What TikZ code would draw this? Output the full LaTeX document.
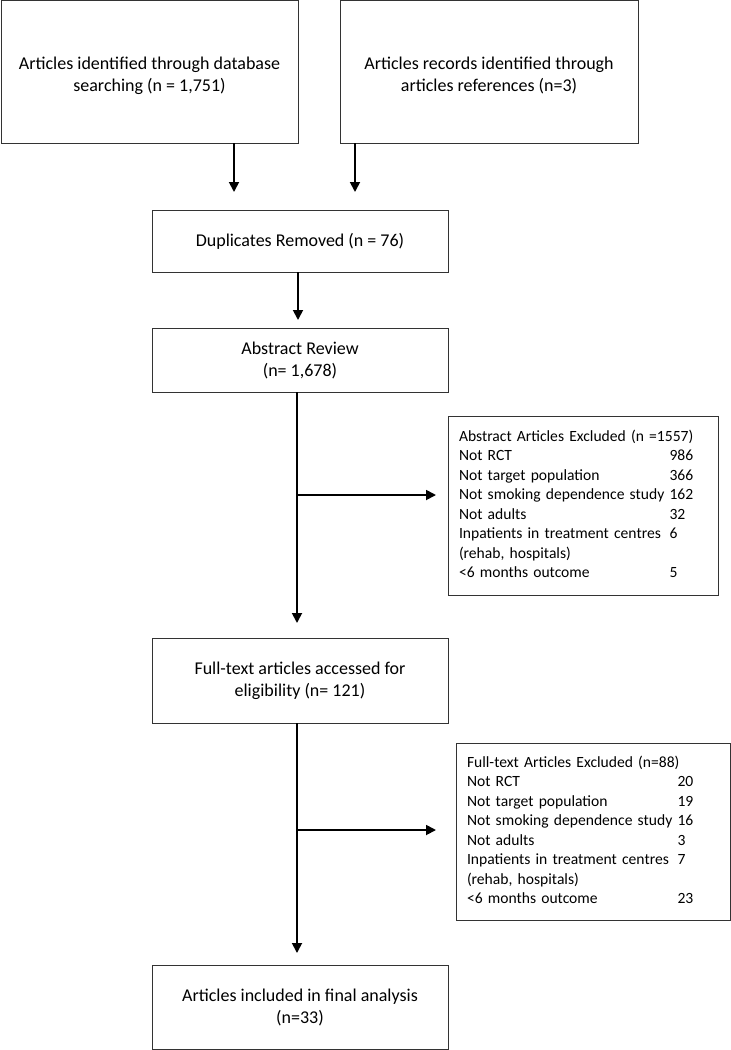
\documentclass[tikz,border=0pt]{standalone}
\usepackage{fontspec}
\setmainfont{Carlito}
\usetikzlibrary{arrows.meta}
\begin{document}
\begin{tikzpicture}[x=1pt,y=-1pt,
  box/.style={draw=black!80,line width=0.9pt,rectangle,inner sep=0pt,align=center,font=\fontsize{18}{22}\selectfont},
  txt/.style={inner sep=0pt,align=center,font=\fontsize{18}{22}\selectfont},
  exbox/.style={draw=black!80,line width=0.9pt,rectangle,inner xsep=11pt,inner ysep=0pt,align=left,font=\fontsize{15.6}{19.5}\selectfont},
  arr/.style={line width=1.8pt,-{Triangle[length=10pt,width=10pt]}}]
\useasboundingbox (0,0) rectangle (731,1050);
\node[box,minimum width=297pt,minimum height=143pt] (a) at (149.5,71.5) {};
\node[txt] (atext) at (149.5,75.5) {Articles identified through database\\searching (n = 1,751)};
\node[box,minimum width=298pt,minimum height=143pt] (b) at (489,71.5) {};
\node[txt] (btext) at (489,75.5) {Articles records identified through\\articles references (n=3)};
\node[box,minimum width=296pt,minimum height=62pt] (dup) at (300,241) {Duplicates Removed (n = 76)};
\node[box,minimum width=296pt,minimum height=64pt] (abs) at (300,360) {Abstract Review\\(n= 1,678)};
\node[box,minimum width=296pt,minimum height=85pt] (full) at (300,680.5) {Full-text articles accessed for\\eligibility (n= 121)};
\node[box,minimum width=296pt,minimum height=84pt] (fin) at (300,1007) {Articles included in final analysis\\(n=33)};
\node[exbox,minimum width=270pt,minimum height=179pt,text width=248pt] (ex1) at (583,505.5) {%
\begin{tabular}{@{}l@{\ }l@{}}
\multicolumn{2}{@{}l@{}}{Abstract Articles Excluded (n =1557)}\\
Not RCT & 986\\
Not target population & 366\\
Not smoking dependence study & 162\\
Not adults & 32\\
Inpatients in treatment centres & 6\\
(rehab, hospitals) & \\
<6 months outcome & 5
\end{tabular}};
\node[exbox,minimum width=274pt,minimum height=177pt,text width=252pt] (ex2) at (593,831.5) {%
\begin{tabular}{@{}l@{\ }l@{}}
\multicolumn{2}{@{}l@{}}{Full-text Articles Excluded (n=88)}\\
Not RCT & 20\\
Not target population & 19\\
Not smoking dependence study & 16\\
Not adults & 3\\
Inpatients in treatment centres & 7\\
(rehab, hospitals) & \\
<6 months outcome & 23
\end{tabular}};
\coordinate (t1) at (234,192);
\coordinate (t2) at (355,192);
\coordinate (t3) at (298,320);
\coordinate (t4) at (297,623);
\coordinate (t5) at (297,953);
\coordinate (j1) at (297,495);
\coordinate (j2) at (297,830);
\coordinate (e1) at (436,495);
\coordinate (e2) at (436,830);
\draw[arr] (t1 |- a.south) -- (t1);
\draw[arr] (t2 |- b.south) -- (t2);
\draw[arr] (t3 |- dup.south) -- (t3);
\draw[arr] (t4 |- abs.south) -- (t4);
\draw[arr] (j1) -- (e1);
\draw[arr] (t5 |- full.south) -- (t5);
\draw[arr] (j2) -- (e2);
\end{tikzpicture}
\end{document}
